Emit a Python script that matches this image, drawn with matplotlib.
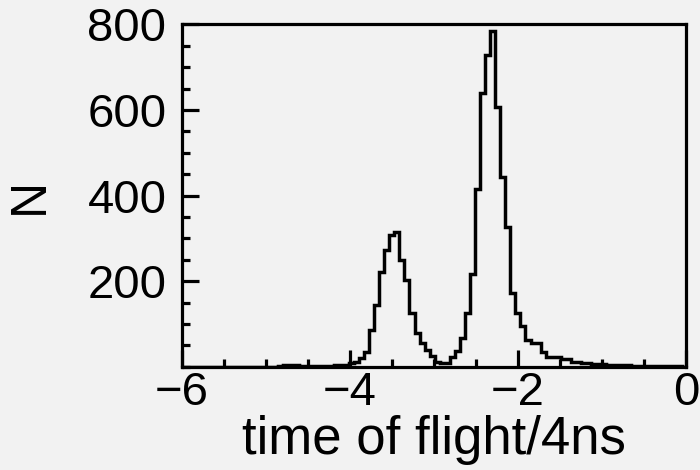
import numpy as np
import matplotlib
matplotlib.use("Agg")
import matplotlib.pyplot as plt
from matplotlib.ticker import MultipleLocator, FixedLocator

# histogram of time of flight, 100 bins of 0.06 starting near -6
bin_start = -5.99
bin_width = 0.06
counts = [
    0, 0, 0, 0, 0, 0, 0, 0, 0, 0,
    0, 0, 0, 0, 0, 0, 0, 0, 0, 1,
    3, 5, 4, 2, 1, 1, 1, 1, 2, 2,
    3, 4, 5, 8, 12, 20, 34, 86, 144, 222,
    273, 308, 314, 249, 203, 125, 78, 55, 39, 25,
    12, 8, 8, 23, 36, 66, 125, 216, 416, 639,
    728, 784, 607, 444, 327, 173, 125, 95, 62, 55,
    55, 35, 23, 23, 23, 17, 17, 12, 12, 8,
    8, 6, 6, 6, 4, 4, 3, 3, 3, 2,
    2, 2, 2, 1, 1, 1, 1, 1, 1, 0,
]
xticks = [-6, -4, -2, 0]
yticks = [200, 400, 600, 800]

edges = bin_start + bin_width * np.arange(len(counts) + 1)

plt.rcParams['font.family'] = ['Liberation Sans', 'DejaVu Sans']
bg = '#f2f2f2'

fig = plt.figure(figsize=(7, 4.7), dpi=100, facecolor=bg)
ax = fig.add_axes([0.2596, 0.2198, 0.7204, 0.7284], facecolor=bg)

ax.stairs(counts, edges, color='black', linewidth=2.5)

ax.set_xlim(-6, 0)
ax.set_ylim(0, 800)
ax.xaxis.set_major_locator(FixedLocator(xticks))
ax.xaxis.set_minor_locator(MultipleLocator(0.5))
ax.yaxis.set_major_locator(FixedLocator(yticks))
ax.yaxis.set_minor_locator(MultipleLocator(50))
ax.set_xticklabels(['\u22126', '\u22124', '\u22122', '0'])
ax.set_yticklabels([str(v) for v in yticks])

ax.tick_params(which='both', direction='in', top=False, right=False,
               width=2.3, labelsize=34, colors='black')
ax.tick_params(which='major', length=12)
ax.tick_params(axis='x', which='major', pad=3)
ax.tick_params(axis='y', which='major', pad=11)
ax.tick_params(which='minor', length=6)
for s in ax.spines.values():
    s.set_linewidth(2.3)

ax.set_xlabel('time of flight/4ns', fontsize=38, labelpad=0)
ax.set_ylabel('N', fontsize=36, labelpad=25)

fig.savefig('out.png', dpi=100, facecolor=bg)
